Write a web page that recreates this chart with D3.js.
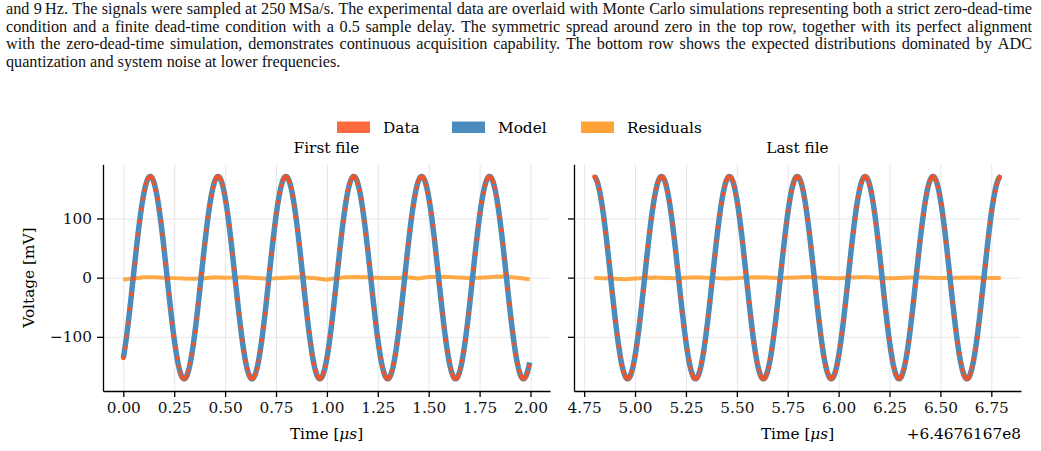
<!DOCTYPE html>
<html>
<head>
<meta charset="utf-8">
<script src="https://cdn.jsdelivr.net/npm/d3@7"></script>
<style>
  body { margin: 0; background: #fff; }
  svg { display: block; }
</style>
</head>
<body>
<svg id="fig" width="1041" height="451"></svg>
<script>
// caption text, one entry per printed line
const captionLines = [
  "and 9\u2009Hz. The signals were sampled at 250\u2009MSa/s. The experimental data are overlaid with Monte Carlo simulations representing both a strict zero-dead-time",
  "condition and a finite dead-time condition with a 0.5 sample delay. The symmetric spread around zero in the top row, together with its perfect alignment",
  "with the zero-dead-time simulation, demonstrates continuous acquisition capability. The bottom row shows the expected distributions dominated by ADC",
  "quantization and system noise at lower frequencies."
];

const panelTitles = ["First file", "Last file"];
const legendLabels = ["Data", "Model", "Residuals"];

// acquisition windows (µs, right panel relative to the axis offset)
const windowStartUs = [0, 4.80];
const sampleRateMsps = 250;
const sampleCount = 500;
const dotStride = 2;   // every 2nd sample is drawn as a dot

// fitted sine model
const fitAmplitudeMv = [171, 171];
const fitFrequencyMhz = [3, 3];
const fitPeakUs = [0.132, 4.797];

// residuals (mV), evenly spaced over each window
const residualsFirst = [-3.0, -1.5, 0.5, 0.8, 0.0, -0.8, -1.5, -1.8, -1.0, 0.8,
  -0.3, 0.2, 0.5, -0.5, -1.5, -1.2, -0.3, 0.5, 0.2, -1.0,
  -3.5, -0.5, 0.5, 1.2, 0.8, 0.0, -0.8, -0.5, 0.5, -1.5,
  1.0, 1.5, 1.2, 0.2, -0.5, -0.2, 0.8, 2.0, 1.0, -0.5, -2.8];
const residualsLast = [-0.8, -1.2, -1.8, -2.5, -1.5, -0.5, 0.2, -0.5, -1.0, -0.2,
  0.5, 0.0, -0.8, -1.5, -0.8, 0.2, 0.8, 0.3, -0.5, -0.3,
  0.3, 1.0, 0.2, -0.8, -1.2, -0.3, 0.5, 0.8, 0.0, -1.0,
  -0.5, 0.3, 0.5, -0.2, -0.8, -0.5, 0.0, 0.2, -0.3, -0.5, -0.6];

const xTicksFirst = [0, 0.25, 0.5, 0.75, 1, 1.25, 1.5, 1.75, 2];
const xTicksLast = [4.75, 5, 5.25, 5.5, 5.75, 6, 6.25, 6.5, 6.75];
const yTicks = [-100, 0, 100];
const xOffsetText = "+6.4676167e8";

const colors = {
  data: "#ee5528", dataPatch: "#fd6a3e",
  model: "#4a8cbc", modelPatch: "#4b8cbd",
  resid: "#ffa033", residPatch: "#ffa337",
  grid: "#e6e6e6"
};

const svg = d3.select("#fig");
const FONT = "DejaVu Serif";
const FS = 15.3;

// ---- caption (justified lines) ----
function drawCaption() {
  const left = 6, right = 1032, top = 14, lead = 17.55;
  captionLines.forEach((line, i) => {
    const g = svg.append("g");
    const words = line.split(" ");
    const nodes = words.map(w => g.append("text")
      .attr("y", top + i * lead)
      .attr("font-family", "Liberation Serif")
      .attr("font-size", 16.2)
      .attr("fill", "#111")
      .text(w));
    const widths = nodes.map(n => n.node().getComputedTextLength());
    const total = d3.sum(widths);
    const justify = i < captionLines.length - 1;
    const gap = justify ? (right - left - total) / (words.length - 1) : 4.1;
    let x = left;
    nodes.forEach((n, j) => { n.attr("x", x); x += widths[j] + gap; });
  });
}
drawCaption();

// ---- panels ----
const axTop = 164.3, axBottom = 391;
const panelX = [[103, 550], [574, 1021]];
const y = d3.scaleLinear().domain([-191.5, 191.5]).range([axBottom, axTop]);

function panel(p) {
  const start = windowStartUs[p];
  const step = 1 / sampleRateMsps;
  const end = start + (sampleCount - 1) * step;
  const pad = (end - start) * 0.05;
  const x = d3.scaleLinear().domain([start - pad, end + pad]).range(panelX[p]);

  const times = d3.range(sampleCount).map(i => start + i * step);
  const model = times.map(t => ({
    t, v: fitAmplitudeMv[p] * Math.cos(2 * Math.PI * fitFrequencyMhz[p] * (t - fitPeakUs[p]))
  }));
  const dots = model.filter((d, i) => i % dotStride === 0);
  const res = p === 0 ? residualsFirst : residualsLast;
  const rIdx = d3.scaleLinear().domain([0, res.length - 1]).range([start, end]);
  const resid = res.map((v, i) => ({ t: rIdx(i), v }));

  const g = svg.append("g");
  const ticks = p === 0 ? xTicksFirst : xTicksLast;

  // grid
  g.append("g").attr("transform", `translate(0,${axBottom})`)
    .call(d3.axisBottom(x).tickValues(ticks).tickSize(-(axBottom - axTop)).tickFormat(""))
    .call(a => a.select(".domain").remove())
    .call(a => a.selectAll("line").attr("stroke", colors.grid).attr("stroke-width", 1));
  g.append("g").attr("transform", `translate(${panelX[p][0]},0)`)
    .call(d3.axisLeft(y).tickValues(yTicks).tickSize(-(panelX[p][1] - panelX[p][0])).tickFormat(""))
    .call(a => a.select(".domain").remove())
    .call(a => a.selectAll("line").attr("stroke", colors.grid).attr("stroke-width", 1));

  const line = d3.line().x(d => x(d.t)).y(d => y(d.v));

  g.append("path").datum(resid).attr("d", line)
    .attr("fill", "none").attr("stroke", colors.resid).attr("stroke-opacity", 0.9)
    .attr("stroke-width", 4).attr("stroke-linejoin", "round");
  g.append("path").datum(model).attr("d", line)
    .attr("fill", "none").attr("stroke", colors.model)
    .attr("stroke-width", 5.5).attr("stroke-linejoin", "round");
  g.append("g").selectAll("circle").data(dots).join("circle")
    .attr("cx", d => x(d.t)).attr("cy", d => y(d.v)).attr("r", 2.2)
    .attr("fill", colors.data);

  // axes
  const xa = g.append("g").attr("transform", `translate(0,${axBottom})`)
    .call(d3.axisBottom(x).tickValues(ticks).tickSize(6).tickSizeOuter(0).tickPadding(5)
      .tickFormat(d3.format(".2f")));
  const ya = g.append("g").attr("transform", `translate(${panelX[p][0]},0)`)
    .call(d3.axisLeft(y).tickValues(yTicks).tickSize(6).tickSizeOuter(0).tickPadding(5)
      .tickFormat(p === 0 ? d3.format("d") : ""));
  [xa, ya].forEach(a => {
    a.select(".domain").attr("stroke", "#000").attr("stroke-width", 1.3);
    a.selectAll(".tick line").attr("stroke", "#000").attr("stroke-width", 1.3);
    a.selectAll("text").attr("font-family", FONT).attr("font-size", FS).attr("fill", "#111");
  });

  const cx = (panelX[p][0] + panelX[p][1]) / 2;
  g.append("text").attr("x", cx).attr("y", 153)
    .attr("text-anchor", "middle").attr("font-family", FONT).attr("font-size", FS)
    .text(panelTitles[p]);

  const xl = g.append("text").attr("x", cx).attr("y", 438.5)
    .attr("text-anchor", "middle").attr("font-family", FONT).attr("font-size", FS);
  xl.append("tspan").text("Time [");
  xl.append("tspan").attr("font-style", "italic").text("\u03bcs");
  xl.append("tspan").text("]");

  if (p === 0) {
    g.append("text")
      .attr("transform", `translate(34,${(axTop + axBottom) / 2}) rotate(-90)`)
      .attr("text-anchor", "middle").attr("font-family", FONT).attr("font-size", FS)
      .text("Voltage [mV]");
  } else {
    g.append("text").attr("x", panelX[p][1]).attr("y", 438.5)
      .attr("text-anchor", "end").attr("font-family", FONT).attr("font-size", FS)
      .text(xOffsetText);
  }
}
panel(0);
panel(1);

// ---- legend ----
const legendX = [337, 452, 581];
const patchColors = [colors.dataPatch, colors.modelPatch, colors.residPatch];
const lg = svg.append("g");
legendLabels.forEach((lab, i) => {
  lg.append("rect").attr("x", legendX[i]).attr("y", 121.5)
    .attr("width", 33).attr("height", 11.5).attr("fill", patchColors[i]);
  lg.append("text").attr("x", legendX[i] + 46).attr("y", 132.7)
    .attr("font-family", FONT).attr("font-size", FS).text(lab);
});
</script>
</body>
</html>
